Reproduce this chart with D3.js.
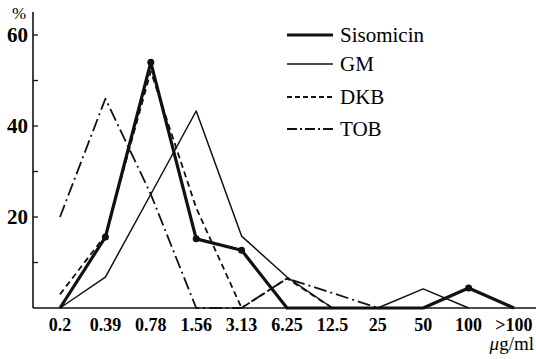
<!DOCTYPE html>
<html lang="en">
<head>
    <meta charset="UTF-8">
    <title>MIC distribution</title>
    <style>
        body {
            margin: 0;
            padding: 0;
            background-color: white;
        }
    </style>
</head>
<body>
    <svg id="chart" width="536" height="359"></svg>

    <script src="https://d3js.org/d3.v7.min.js"></script>
    <script>
        // MIC categories (ug/ml) and % of strains per drug
        const categories = ["0.2", "0.39", "0.78", "1.56", "3.13", "6.25", "12.5", "25", "50", "100", ">100"];
        const sisomicin = [0, 15.6, 54, 15.2, 12.7, 0, 0, 0, 0, 4.4, 0];
        const gm = [0, 6.8, 25, 43.3, 15.8, 6.8, 0, 0, 4.2, 0, null];
        const dkb = [3, 16, 52, 22, 0, 6.5, 0, null, null, null, null];
        const tob = [20, 46, 25, 0, 0, 6.5, 3.3, 0, null, null, null];
        const yTicks = [20, 40, 60];
        const yMinorTicks = [10, 30, 50];

        const series = [
            { name: "Sisomicin", values: sisomicin, width: 3.2, dash: null, legendDash: null, dots: true },
            { name: "GM", values: gm, width: 1.5, dash: null, legendDash: null, dots: false },
            { name: "DKB", values: dkb, width: 1.8, dash: "6,4", legendDash: "5,3", dots: false },
            { name: "TOB", values: tob, width: 1.8, dash: "13,4,2,4", legendDash: "10,3,2,3", dots: false }
        ];

        const serif = "'Liberation Serif', 'Times New Roman', Times, 'DejaVu Serif', serif";

        const svg = d3.select("#chart");

        const x = d3.scalePoint().domain(categories).range([60, 514]);
        const y = d3.scaleLinear().domain([0, 60]).range([308, 35]);

        // axes
        svg.append("line")
            .attr("x1", 33).attr("x2", 33)
            .attr("y1", 12).attr("y2", y(0))
            .attr("stroke", "#111").attr("stroke-width", 1.6);
        svg.append("line")
            .attr("x1", 33).attr("x2", 536)
            .attr("y1", y(0)).attr("y2", y(0))
            .attr("stroke", "#111").attr("stroke-width", 1.6);

        // inward ticks
        svg.selectAll(".ytick")
            .data(yTicks.concat(yMinorTicks))
            .enter()
            .append("line")
            .attr("x1", 33).attr("x2", 38)
            .attr("y1", d => y(d)).attr("y2", d => y(d))
            .attr("stroke", "#111").attr("stroke-width", 1.3);

        svg.selectAll(".ylabel")
            .data(yTicks)
            .enter()
            .append("text")
            .attr("x", 28)
            .attr("y", d => y(d) + 7)
            .attr("text-anchor", "end")
            .attr("font-family", serif)
            .attr("font-size", "21px")
            .attr("font-weight", "bold")
            .text(d => d);

        svg.append("text")
            .attr("x", 12).attr("y", 19)
            .attr("font-family", serif)
            .attr("font-size", "17px")
            .text("%");

        svg.selectAll(".xlabel")
            .data(categories)
            .enter()
            .append("text")
            .attr("x", d => x(d))
            .attr("y", 331)
            .attr("text-anchor", "middle")
            .attr("font-family", serif)
            .attr("font-size", "18px")
            .attr("font-weight", "bold")
            .text(d => d);

        const unit = svg.append("text")
            .attr("x", 534).attr("y", 350)
            .attr("text-anchor", "end")
            .attr("font-family", serif)
            .attr("font-size", "19px");
        unit.append("tspan").attr("font-style", "italic").text("\u03bc");
        unit.append("tspan").text("g/ml");

        // series lines
        const line = d3.line()
            .defined(d => d != null)
            .x((d, i) => x(categories[i]))
            .y(d => y(d));

        series.forEach(s => {
            svg.append("path")
                .datum(s.values)
                .attr("fill", "none")
                .attr("stroke", "#111")
                .attr("stroke-width", s.width)
                .attr("stroke-dasharray", s.dash)
                .attr("stroke-linejoin", "round")
                .attr("d", line);

            if (s.dots) {
                svg.selectAll(".dot-" + s.name)
                    .data(s.values.map((v, i) => ({ v: v, c: categories[i] })).filter(d => d.v > 0))
                    .enter()
                    .append("circle")
                    .attr("cx", d => x(d.c))
                    .attr("cy", d => y(d.v))
                    .attr("r", 3.5)
                    .attr("fill", "#111");
            }
        });

        // legend
        const legendY = [35, 64, 97, 129];
        const legend = svg.append("g");
        series.forEach((s, i) => {
            legend.append("line")
                .attr("x1", 287).attr("x2", 333)
                .attr("y1", legendY[i]).attr("y2", legendY[i])
                .attr("stroke", "#111")
                .attr("stroke-width", s.width)
                .attr("stroke-dasharray", s.legendDash);
            legend.append("text")
                .attr("x", 340)
                .attr("y", legendY[i] + 7)
                .attr("font-family", serif)
                .attr("font-size", "21px")
                .text(s.name);
        });
    </script>
</body>
</html>
